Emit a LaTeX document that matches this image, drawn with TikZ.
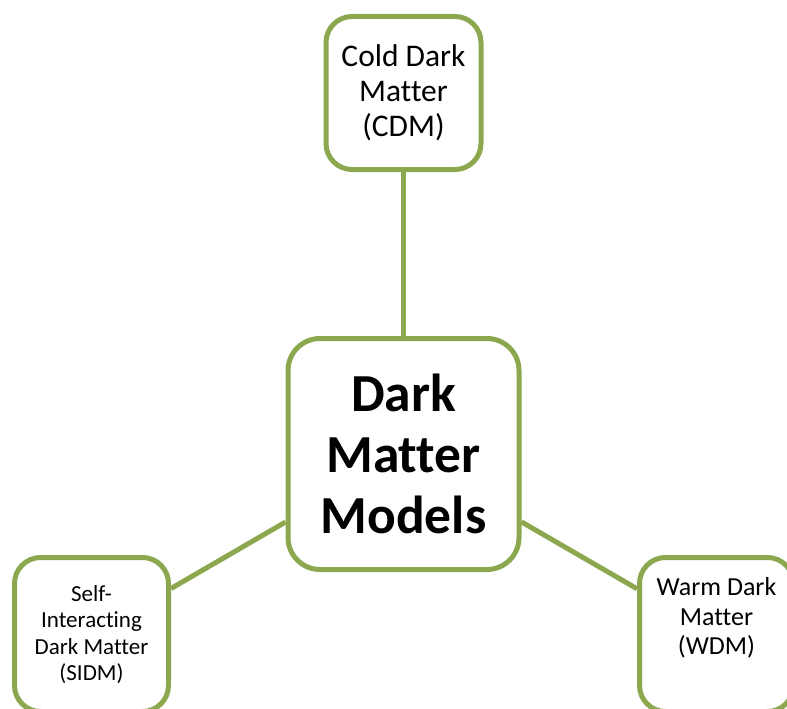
\documentclass[tikz,border=0pt]{standalone}
\usepackage{fontspec}
\setmainfont[Ligatures={NoCommon}]{Carlito}
\definecolor{olivegreen}{RGB}{139,168,78}
\tikzset{
  box/.style={draw=olivegreen, line width=5pt, fill=white, rounded corners=26pt,
    inner sep=0pt, align=center, text=black},
  link/.style={draw=olivegreen, line width=5pt}
}
\begin{document}
\begin{tikzpicture}[x=1pt,y=-1pt]
\useasboundingbox (0,0) rectangle (787,709);
\clip (0,0) rectangle (787,709);
\node[box, minimum width=231pt, minimum height=231pt, rounded corners=32pt,
  font=\fontsize{53.5pt}{61pt}\selectfont\bfseries] (dm) at (403.5,454) {Dark\\Matter\\Models};
\node[box, minimum width=155pt, minimum height=153pt,
  font=\fontsize{31.5pt}{35pt}\selectfont] (cdm) at (403.5,93) {Cold Dark\\Matter\\(CDM)};
\node[box, minimum width=154pt, minimum height=154pt,
  font=\fontsize{23pt}{26.5pt}\selectfont] (sidm) at (91.5,634.5) {Self-\\Interacting\\Dark Matter\\(SIDM)};
\node[box, minimum width=154pt, minimum height=154pt,
  label={[font=\fontsize{26pt}{29.5pt}\selectfont, align=center, yshift=16.5pt]center:Warm Dark\\Matter\\(WDM)}] (wdm) at (716.5,634.5) {};
\draw[link] (dm) -- (cdm);
\draw[link] (dm) -- (sidm);
\draw[link] (dm) -- (wdm);
\end{tikzpicture}
\end{document}
